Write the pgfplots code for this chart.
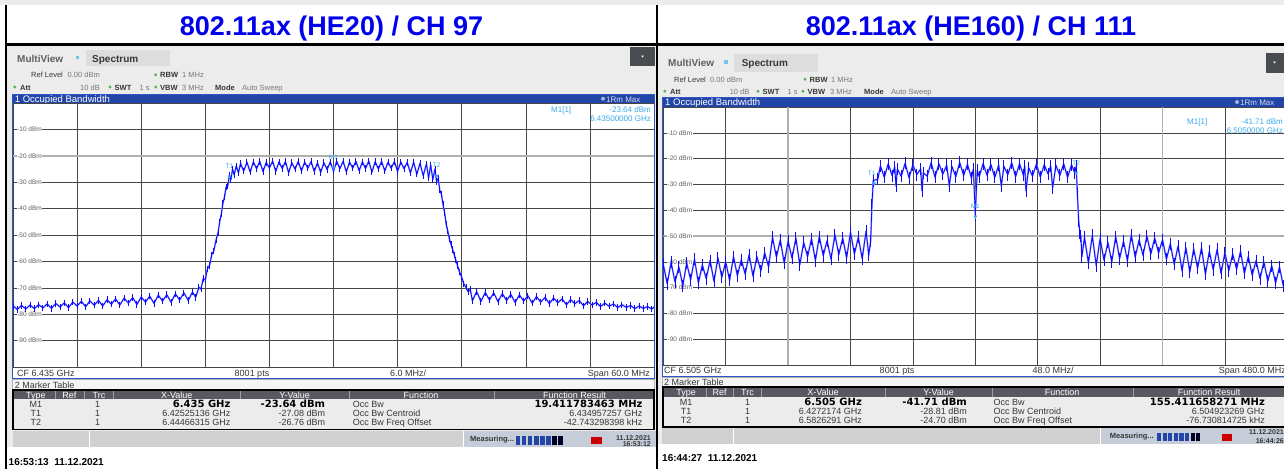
\documentclass[border=0pt]{standalone}
\usepackage{pgfplots}
\pgfplotsset{compat=1.18}
\usepackage{fontspec}
\setmainfont{Liberation Sans}
\newfontfamily\dejavu{DejaVu Sans}

\definecolor{ttl}{RGB}{0,0,235}
\definecolor{uibg}{RGB}{236,236,236}
\definecolor{tabbg}{RGB}{221,221,221}
\definecolor{btn}{RGB}{72,76,80}
\definecolor{bar}{RGB}{34,70,168}
\definecolor{frm}{RGB}{45,85,200}
\definecolor{trc}{RGB}{10,10,255}
\definecolor{mk}{RGB}{60,170,230}
\definecolor{grd}{RGB}{70,70,70}
\definecolor{lbl}{RGB}{95,95,95}
\definecolor{hdr}{RGB}{88,88,96}
\definecolor{stat}{RGB}{208,208,208}
\definecolor{statb}{RGB}{198,205,216}
\definecolor{dot}{RGB}{90,175,90}
\definecolor{txt}{RGB}{55,55,55}
\definecolor{lt}{RGB}{120,120,120}
\definecolor{dline}{RGB}{175,175,175}

\tikzset{
  t/.style={inner sep=0pt, anchor=base west, font=\fontsize{7.5}{9}\selectfont, text=txt},
  ylab/.style={anchor=west, xshift=3.5pt, fill=white, inner sep=0.6pt,
    font=\fontsize{6.5}{7}\selectfont, text=lbl},
  mkl/.style={anchor=south, inner sep=0.5pt, yshift=5pt,
    font=\fontsize{6.5}{7}\selectfont, text=mk},
}
\pgfplotsset{
  mkp/.style={only marks, mark=triangle*, mark size=1.8pt,
    mark options={rotate=180, mk, yshift=2.2pt}},
  halo/.style={trc!40, line width=1.6pt, line join=round},
  core/.style={trc, line width=0.8pt, line join=round},
  % short vertical strokes at every sample thicken the noise band
  grain/.style={only marks, mark=|, mark size=#1, forget plot,
    mark options={draw=trc, line width=0.95pt}},
}
\newcommand{\T}[4][]{\node[t,#1] at (#2,#3) {#4};}

\pgfplotstableread{
x y
-30.0 -76.8
-29.6 -78.2
-29.2 -76.7
-28.8 -78.0
-28.4 -76.5
-28.0 -77.9
-27.6 -76.4
-27.2 -77.6
-26.8 -76.1
-26.4 -77.8
-26.0 -75.9
-25.6 -77.3
-25.2 -75.7
-24.8 -77.5
-24.4 -75.4
-24.0 -76.9
-23.6 -75.1
-23.2 -77.2
-22.8 -74.9
-22.4 -76.6
-22.0 -74.8
-21.6 -76.9
-21.2 -74.5
-20.8 -76.2
-20.4 -74.2
-20.0 -76.5
-19.6 -73.9
-19.2 -75.8
-18.8 -73.7
-18.4 -76.3
-18.0 -73.5
-17.6 -75.4
-17.2 -73.2
-16.8 -75.9
-16.4 -72.8
-16.0 -75.0
-15.6 -72.6
-15.2 -75.5
-14.8 -72.3
-14.4 -74.6
-14.0 -71.9
-13.6 -74.8
-13.2 -71.6
-12.9 -73.6
-12.6 -69.8
-12.4 -70.5
-12.2 -66.5
-12.0 -67.0
-11.8 -62.8
-11.6 -61.5
-11.4 -57.5
-11.2 -56.0
-11.0 -52.0
-10.8 -49.0
-10.65 -45.0
-10.5 -42.0
-10.35 -38.0
-10.2 -35.5
-10.05 -31.8
-9.9 -31.5
-9.75 -27.5
-9.6 -29.0
-9.45 -25.0
-9.3 -27.2
-9.1 -23.8
-8.9 -26.5
-8.7 -22.9
-8.4 -25.8
-8.1 -22.4
-7.8 -26.2
-7.5 -22.3
-7.2 -24.9
-6.9 -22.1
-6.6 -26.0
-6.3 -22.5
-6.0 -24.6
-5.7 -22.0
-5.4 -25.9
-5.1 -22.3
-4.8 -24.8
-4.5 -22.2
-4.2 -26.4
-3.9 -22.6
-3.6 -25.1
-3.3 -22.1
-3.0 -25.7
-2.7 -22.4
-2.4 -24.7
-2.1 -22.2
-1.8 -25.9
-1.5 -22.7
-1.2 -26.3
-0.9 -22.6
-0.6 -25.2
-0.3 -22.3
0.0 -25.8
0.3 -22.1
0.6 -24.9
0.9 -22.0
1.2 -26.1
1.5 -22.4
1.8 -24.6
2.1 -22.1
2.4 -25.7
2.7 -22.3
3.0 -24.8
3.3 -22.0
3.6 -26.2
3.9 -22.2
4.2 -25.0
4.5 -22.1
4.8 -25.8
5.1 -22.4
5.4 -24.7
5.7 -22.2
6.0 -25.9
6.3 -22.3
6.6 -24.9
6.9 -22.5
7.2 -26.5
7.5 -22.4
7.8 -27.0
8.1 -22.8
8.4 -27.6
8.7 -23.0
8.9 -28.4
9.1 -23.5
9.3 -29.0
9.5 -25.0
9.65 -29.8
9.8 -28.5
9.95 -33.0
10.1 -34.5
10.25 -38.5
10.4 -41.5
10.55 -46.0
10.7 -48.5
10.85 -51.5
11.0 -53.5
11.15 -55.5
11.3 -57.5
11.45 -59.5
11.6 -61.5
11.8 -64.0
12.0 -66.0
12.2 -68.5
12.4 -69.8
12.6 -71.5
12.8 -70.6
13.0 -74.9
13.4 -71.4
13.8 -75.2
14.2 -71.8
14.6 -74.6
15.0 -71.9
15.4 -75.3
15.8 -72.2
16.2 -74.8
16.6 -72.5
17.0 -75.6
17.4 -72.7
17.8 -75.0
18.2 -73.0
18.6 -75.8
19.0 -73.3
19.4 -75.4
19.8 -73.6
20.2 -76.0
20.6 -73.9
21.0 -75.6
21.4 -74.2
21.8 -76.4
22.2 -74.5
22.6 -76.0
23.0 -74.8
23.4 -76.8
23.8 -75.2
24.2 -76.5
24.6 -75.5
25.0 -77.1
25.4 -75.8
25.8 -77.0
26.2 -76.1
26.6 -77.5
27.0 -76.4
27.4 -77.4
27.8 -76.7
28.2 -77.9
28.6 -76.9
29.0 -77.8
29.4 -77.1
29.8 -78.0
30.0 -77.3
}\heTwenty

\pgfplotstableread{
x y
-240 -61.0
-237 -68.5
-234 -60.2
-231 -67.8
-228 -62.0
-225 -69.2
-222 -60.5
-219 -67.0
-216 -59.0
-213 -68.2
-210 -61.2
-207 -66.5
-204 -59.5
-201 -67.6
-198 -58.4
-195 -66.0
-192 -60.0
-189 -67.2
-186 -58.0
-183 -65.4
-180 -59.2
-177 -64.8
-174 -57.2
-171 -65.6
-168 -58.0
-165 -63.5
-162 -56.5
-159 -62.0
-156 -50.5
-153 -58.2
-150 -51.5
-147 -60.5
-144 -52.0
-141 -58.6
-138 -50.8
-135 -61.2
-132 -52.5
-129 -58.0
-126 -51.0
-123 -59.5
-120 -50.2
-117 -57.6
-114 -51.8
-111 -59.0
-108 -49.5
-105 -57.2
-102 -50.8
-99 -58.5
-96 -48.6
-93 -57.0
-90 -50.5
-87 -58.8
-84 -48.0
-82 -57.5
-80.5 -52.0
-79.5 -38.0
-78.5 -28.5
-75 -28.0
-73 -22.8
-70 -27.2
-67 -22.0
-64 -26.6
-62 -23.2
-61 -30.6
-60 -24.0
-57 -26.9
-54 -21.8
-51 -27.4
-48 -22.4
-45 -26.2
-42 -24.0
-41 -32.5
-40 -25.5
-37 -26.8
-34 -21.6
-31 -27.2
-28 -22.0
-25 -26.0
-22 -22.6
-20 -30.6
-18 -23.0
-15 -27.0
-12 -21.5
-9 -26.5
-6 -22.2
-3 -27.5
-1.5 -24.0
0 -41.7
1.5 -24.5
3 -27.0
6 -21.9
9 -26.4
12 -22.3
15 -27.3
18 -22.5
20 -30.6
22 -23.0
25 -26.2
28 -21.6
31 -27.0
34 -22.0
37 -26.5
38 -22.8
39 -32.5
41 -23.5
44 -26.8
47 -22.1
50 -27.1
53 -22.4
56 -26.0
58 -22.9
59.5 -31.3
62 -22.6
65 -26.5
68 -22.0
71 -27.3
74 -22.4
76.5 -25.5
77.6 -23.0
78.5 -33.5
79.5 -44.0
80.5 -49.0
81.2 -50.0
82 -58.0
84 -50.5
87 -60.5
90 -49.8
93 -61.5
96 -51.0
99 -59.4
102 -52.5
105 -60.0
108 -50.2
111 -58.8
114 -52.0
117 -59.6
120 -49.5
123 -58.2
126 -51.5
129 -57.5
132 -50.0
135 -57.0
138 -50.8
141 -56.5
144 -51.5
147 -59.0
150 -53.0
153 -61.0
156 -53.8
159 -63.5
162 -54.5
165 -64.0
168 -55.0
171 -62.5
174 -54.6
177 -64.8
180 -56.0
183 -63.0
186 -55.2
189 -64.5
192 -56.5
195 -63.5
198 -57.0
201 -62.8
204 -56.0
207 -64.5
210 -58.0
213 -65.2
216 -59.5
219 -66.5
222 -60.0
225 -67.5
228 -61.5
231 -68.2
234 -62.0
237 -69.5
240 -63.5
}\heOneSixty

\begin{document}
\begin{tikzpicture}
\path[use as bounding box] (0pt,0pt) rectangle (1284pt,-469pt);

\begin{scope}[x=1pt,y=-1pt]
  % frame of the screenshot
  \fill[gray!15] (0,0) rectangle (1284,5);
  \fill[uibg] (7.3,45.7) rectangle (656,447);
  \fill[uibg] (658.3,45.7) rectangle (1284,444);
  \fill[black] (5,5) rectangle (7.3,469);
  \fill[black] (656,5) rectangle (658.3,469);
  \fill[black] (5,43.3) rectangle (1284,45.7);
  \node[anchor=base, font=\fontsize{27}{30}\selectfont\bfseries, text=ttl, inner sep=0pt]
    at (331.5,35) {802.11ax (HE20) / CH 97};
  \node[anchor=base, font=\fontsize{27}{30}\selectfont\bfseries, text=ttl, inner sep=0pt]
    at (971,35) {802.11ax (HE160) / CH 111};

  % ---------- left instrument header
  \T[font=\fontsize{10}{11}\selectfont\bfseries, text=lbl]{17}{62}{MultiView}
  \fill[mk!70] (75.5,55.5) rectangle (79,59);
  \fill[tabbg] (86,50) rectangle (170,66);
  \T[font=\fontsize{10}{11}\selectfont\bfseries]{92}{62}{Spectrum}
  \fill[btn] (630,47) rectangle (655,66);
  \fill[white] (641,55.5) -- (644,55.5) -- (642.5,57.5) -- cycle;
  \T{31}{77.5}{Ref Level}
  \T[text=lt]{67.5}{77.5}{0.00 dBm}
  \fill[dot] (155.7,74.8) circle (1.6);
  \T[font=\fontsize{7.5}{9}\selectfont\bfseries]{160}{77.5}{RBW}
  \T[text=lt]{182}{77.5}{1 MHz}
  \fill[dot] (14.7,87) circle (1.6);
  \T[font=\fontsize{7.5}{9}\selectfont\bfseries]{20}{90}{Att}
  \T[text=lt]{80}{90}{10 dB}
  \fill[dot] (110,87) circle (1.6);
  \T[font=\fontsize{7.5}{9}\selectfont\bfseries]{114.5}{90}{SWT}
  \T[text=lt]{139.5}{90}{1 s}
  \fill[dot] (155.7,87) circle (1.6);
  \T[font=\fontsize{7.5}{9}\selectfont\bfseries]{160}{90}{VBW}
  \T[text=lt]{182}{90}{3 MHz}
  \T[font=\fontsize{7.5}{9}\selectfont\bfseries]{215}{90}{Mode}
  \T[text=lt]{242}{90}{Auto Sweep}
  \fill[bar] (12.6,94) rectangle (654.5,103.3);
  \T[font=\fontsize{9.5}{10}\selectfont, text=white]{14.7}{102}{1 Occupied Bandwidth}
  \fill[white!60!bar] (603,98.7) circle (2);
  \T[font=\fontsize{8}{9}\selectfont, text=white!80!bar]{606}{102}{1Rm Max}
  \fill[white] (12.6,367) rectangle (654.5,378.5);

  % ---------- right instrument header
  \T[font=\fontsize{10}{11}\selectfont\bfseries, text=lbl]{668}{66.5}{MultiView}
  \fill[mk!70] (724,60) rectangle (727.5,63.5);
  \fill[tabbg] (733.6,54) rectangle (818,72.3);
  \T[font=\fontsize{10}{11}\selectfont\bfseries]{741.6}{66.5}{Spectrum}
  \fill[btn] (1265.6,53) rectangle (1284,73.3);
  \fill[white] (1273,61.5) -- (1276,61.5) -- (1274.5,63.5) -- cycle;
  \T{674}{82}{Ref Level}
  \T[text=lt]{710}{82}{0.00 dBm}
  \fill[dot] (805,79.3) circle (1.6);
  \T[font=\fontsize{7.5}{9}\selectfont\bfseries]{809.5}{82}{RBW}
  \T[text=lt]{831}{82}{1 MHz}
  \fill[dot] (664.8,91.2) circle (1.6);
  \T[font=\fontsize{7.5}{9}\selectfont\bfseries]{670}{94}{Att}
  \T[text=lt]{729.6}{94}{10 dB}
  \fill[dot] (758,91.2) circle (1.6);
  \T[font=\fontsize{7.5}{9}\selectfont\bfseries]{762.5}{94}{SWT}
  \T[text=lt]{787.5}{94}{1 s}
  \fill[dot] (803,91.2) circle (1.6);
  \T[font=\fontsize{7.5}{9}\selectfont\bfseries]{807.5}{94}{VBW}
  \T[text=lt]{830}{94}{3 MHz}
  \T[font=\fontsize{7.5}{9}\selectfont\bfseries]{864}{94}{Mode}
  \T[text=lt]{891}{94}{Auto Sweep}
  \fill[bar] (662,97.3) rectangle (1290,107);
  \T[font=\fontsize{9.5}{10}\selectfont, text=white]{665}{105.5}{1 Occupied Bandwidth}
  \fill[white!60!bar] (1237,102) circle (2);
  \T[font=\fontsize{8}{9}\selectfont, text=white!80!bar]{1240}{105.5}{1Rm Max}
  \fill[white] (662,365) rectangle (1290,376);
\end{scope}

% ================= left spectrum (offset from 6.435 GHz, MHz)
\begin{axis}[
  at={(13pt,-103pt)}, anchor=north west, scale only axis,
  width=641pt, height=264pt,
  xmin=-30, xmax=30, ymin=-100, ymax=0,
  xtick={-24,-18,...,24}, ytick={-90,-80,...,-10},
  xticklabels={}, yticklabels={}, major tick length=0pt,
  grid=major, major grid style={grd, line width=0.6pt},
  axis line style={grd, line width=0.6pt},
  axis background/.style={fill=white},
]
\addplot[dline, line width=1.6pt] coordinates {(-30,-20) (30,-20)};
\node[ylab] at (axis cs:-30,-10) {-10 dBm};
\node[ylab] at (axis cs:-30,-20) {-20 dBm};
\node[ylab] at (axis cs:-30,-30) {-30 dBm};
\node[ylab] at (axis cs:-30,-40) {-40 dBm};
\node[ylab] at (axis cs:-30,-50) {-50 dBm};
\node[ylab] at (axis cs:-30,-60) {-60 dBm};
\node[ylab] at (axis cs:-30,-70) {-70 dBm};
\node[ylab] at (axis cs:-30,-80) {-80 dBm};
\node[ylab] at (axis cs:-30,-90) {-90 dBm};
\addplot[halo] table {\heTwenty};
\addplot[grain=3.2pt] table {\heTwenty};
\addplot[core] table {\heTwenty};
\addplot[mkp] coordinates {(-9.749,-27.08) (0,-23.64) (9.663,-26.76)};
\node[mkl] at (axis cs:-9.749,-27.08) {T1};
\node[mkl] at (axis cs:0,-23.64) {M1};
\node[mkl] at (axis cs:9.663,-26.76) {T2};
\end{axis}

% ================= right spectrum (offset from 6.505 GHz, MHz)
\begin{axis}[
  at={(663.3pt,-107pt)}, anchor=north west, scale only axis,
  width=624pt, height=258pt,
  xmin=-240, xmax=240, ymin=-100, ymax=0,
  xtick={-192,-144,...,192}, ytick={-90,-80,...,-10},
  xticklabels={}, yticklabels={}, major tick length=0pt,
  grid=major, major grid style={grd, line width=0.6pt},
  axis line style={grd, line width=0.6pt},
  axis background/.style={fill=white},
]
\addplot[dline, line width=1.6pt] coordinates {(-240,-50) (240,-50)};
\addplot[dline, line width=1.6pt] coordinates {(-144,0) (-144,-100)};
\addplot[dline, line width=1.6pt] coordinates {(144,0) (144,-100)};
\node[ylab] at (axis cs:-240,-10) {-10 dBm};
\node[ylab] at (axis cs:-240,-20) {-20 dBm};
\node[ylab] at (axis cs:-240,-30) {-30 dBm};
\node[ylab] at (axis cs:-240,-40) {-40 dBm};
\node[ylab] at (axis cs:-240,-50) {-50 dBm};
\node[ylab] at (axis cs:-240,-60) {-60 dBm};
\node[ylab] at (axis cs:-240,-70) {-70 dBm};
\node[ylab] at (axis cs:-240,-80) {-80 dBm};
\node[ylab] at (axis cs:-240,-90) {-90 dBm};
\addplot[halo] table {\heOneSixty};
\addplot[grain=6pt] table {\heOneSixty};
\addplot[core] table {\heOneSixty};
\addplot[mkp] coordinates {(-77.78,-28.81) (0,-41.71) (77.63,-24.70)};
\node[mkl, anchor=south east, xshift=2pt] at (axis cs:-77.78,-28.81) {T1};
\node[mkl] at (axis cs:0,-41.71) {M1};
\node[mkl] at (axis cs:77.63,-24.70) {T2};
\end{axis}

\begin{scope}[x=1pt,y=-1pt]
  % ---------- left: window frame, readout, bottom row
  \draw[frm, line width=0.8pt] (12.6,94) rectangle (654.5,378.5);
  \T[text=mk, font=\fontsize{8}{9}\selectfont]{551}{112.5}{M1[1]}
  \T[text=mk, font=\fontsize{8}{9}\selectfont, anchor=base east]{651}{112.5}{-23.64 dBm}
  \T[text=mk, font=\fontsize{8}{9}\selectfont, anchor=base east]{651}{121.5}{6.43500000 GHz}
  \T[font=\fontsize{9}{10}\selectfont]{17}{376}{CF 6.435 GHz}
  \T[font=\fontsize{9}{10}\selectfont, anchor=base]{252}{376}{8001 pts}
  \T[font=\fontsize{9}{10}\selectfont, anchor=base]{408}{376}{6.0 MHz/}
  \T[font=\fontsize{9}{10}\selectfont, anchor=base east]{650}{376}{Span 60.0 MHz}

  % ---------- left marker table
  \filldraw[fill=gray!8, draw=gray!60] (12.6,379.5) rectangle (654.5,389);
  \T[font=\fontsize{9}{10}\selectfont]{14.7}{388}{2 Marker Table}
  \fill[hdr] (13.5,390.5) rectangle (653.5,399.3);
  \foreach \xx in {54.7,84.2,113.6,240,349,494.5}
    \draw[gray!75] (\xx,390.5) -- (\xx,399.3);
  \begin{scope}[every node/.style={t, anchor=base, font=\fontsize{9}{10}\selectfont, text=white}]
    \node at (35.8,398) {Type}; \node at (69.4,398) {Ref}; \node at (99,398) {Trc};
    \node at (176.8,398) {X-Value}; \node at (294.6,398) {Y-Value};
    \node at (421,398) {Function}; \node at (574.5,398) {Function Result};
  \end{scope}
  \begin{scope}[every node/.style={t, font=\fontsize{9}{10}\selectfont}]
    \node[anchor=base] at (35.8,407.5) {M1};
    \node[anchor=base] at (97.6,407.5) {1};
    \node[anchor=base east, font=\dejavu\fontsize{10}{11}\selectfont\bfseries, text=black] at (230.6,407.8) {6.435 GHz};
    \node[anchor=base east, font=\dejavu\fontsize{10}{11}\selectfont\bfseries, text=black] at (325.3,407.8) {-23.64 dBm};
    \node at (352.7,407.5) {Occ Bw};
    \node[anchor=base east, font=\dejavu\fontsize{10}{11}\selectfont\bfseries, text=black] at (642.7,407.8) {19.411783463 MHz};
    \node[anchor=base] at (35.8,416.5) {T1};
    \node[anchor=base] at (97.6,416.5) {1};
    \node[anchor=base east] at (230.6,416.5) {6.42525136 GHz};
    \node[anchor=base east] at (325.3,416.5) {-27.08 dBm};
    \node at (352.7,416.5) {Occ Bw Centroid};
    \node[anchor=base east] at (642.7,416.5) {6.434957257 GHz};
    \node[anchor=base] at (35.8,425.5) {T2};
    \node[anchor=base] at (97.6,425.5) {1};
    \node[anchor=base east] at (230.6,425.5) {6.44466315 GHz};
    \node[anchor=base east] at (325.3,425.5) {-26.76 dBm};
    \node at (352.7,425.5) {Occ Bw Freq Offset};
    \node[anchor=base east] at (642.7,425.5) {-42.743298398 kHz};
  \end{scope}
  \draw[black, line width=1.8pt] (12.6,389.6) rectangle (654.2,429.5);

  % ---------- left status bar
  \fill[stat] (12.6,431) rectangle (463,447);
  \fill[statb] (463,431) rectangle (656,447);
  \draw[white, line width=1pt] (89,431) -- (89,447);
  \draw[white, line width=1pt] (463,431) -- (463,447);
  \T[font=\fontsize{7.5}{8}\selectfont\bfseries, text=txt]{470}{441.5}{Measuring...}
  \foreach \i in {0,...,5} \fill[bar] (515.6+\i*6.1,436) rectangle ++(4.6,8.5);
  \foreach \i in {6,7} \fill[black!85!blue] (515.6+\i*6.1,436) rectangle ++(4.6,8.5);
  \fill[red!80!black] (591,437) rectangle (602,443.5);
  \T[font=\fontsize{7}{8}\selectfont\bfseries, anchor=base east]{651}{440.3}{11.12.2021}
  \T[font=\fontsize{7}{8}\selectfont\bfseries, anchor=base east]{651}{446.8}{16:53:12}
  \T[font=\fontsize{10}{11}\selectfont\bfseries, text=black]{8.5}{465}{16:53:13\ \ 11.12.2021}

  % ---------- right: window frame, readout, bottom row
  \draw[frm, line width=0.8pt] (662,97.3) rectangle (1290,376);
  \T[text=mk, font=\fontsize{8}{9}\selectfont]{1187}{124}{M1[1]}
  \T[text=mk, font=\fontsize{8}{9}\selectfont, anchor=base east]{1283}{124}{-41.71 dBm}
  \T[text=mk, font=\fontsize{8}{9}\selectfont, anchor=base east]{1283}{133}{6.5050000 GHz}
  \T[font=\fontsize{9}{10}\selectfont]{664}{373.5}{CF 6.505 GHz}
  \T[font=\fontsize{9}{10}\selectfont, anchor=base]{897}{373.5}{8001 pts}
  \T[font=\fontsize{9}{10}\selectfont, anchor=base]{1053}{373.5}{48.0 MHz/}
  \T[font=\fontsize{9}{10}\selectfont, anchor=base east]{1286}{373.5}{Span 480.0 MHz}

  % ---------- right marker table
  \filldraw[fill=gray!8, draw=gray!60] (662,377) rectangle (1290,386.5);
  \T[font=\fontsize{9}{10}\selectfont]{664}{385.5}{2 Marker Table}
  \fill[hdr] (664,388.3) rectangle (1290,396.7);
  \foreach \xx in {705.8,733.6,761.5,884.8,992.3,1133.5}
    \draw[gray!75] (\xx,388.3) -- (\xx,396.7);
  \begin{scope}[every node/.style={t, anchor=base, font=\fontsize{9}{10}\selectfont, text=white}]
    \node at (686,395.5) {Type}; \node at (719.7,395.5) {Ref}; \node at (747.5,395.5) {Trc};
    \node at (823,395.5) {X-Value}; \node at (938.6,395.5) {Y-Value};
    \node at (1062,395.5) {Function}; \node at (1209,395.5) {Function Result};
  \end{scope}
  \begin{scope}[every node/.style={t, font=\fontsize{9}{10}\selectfont}]
    \node[anchor=base] at (686,405.5) {M1};
    \node[anchor=base] at (747.5,405.5) {1};
    \node[anchor=base east, font=\dejavu\fontsize{10}{11}\selectfont\bfseries, text=black] at (862,405.8) {6.505 GHz};
    \node[anchor=base east, font=\dejavu\fontsize{10}{11}\selectfont\bfseries, text=black] at (967,405.8) {-41.71 dBm};
    \node at (993.5,405.5) {Occ Bw};
    \node[anchor=base east, font=\dejavu\fontsize{10}{11}\selectfont\bfseries, text=black] at (1265,405.8) {155.411658271 MHz};
    \node[anchor=base] at (686,414.5) {T1};
    \node[anchor=base] at (747.5,414.5) {1};
    \node[anchor=base east] at (862,414.5) {6.4272174 GHz};
    \node[anchor=base east] at (967,414.5) {-28.81 dBm};
    \node at (993.5,414.5) {Occ Bw Centroid};
    \node[anchor=base east] at (1265,414.5) {6.504923269 GHz};
    \node[anchor=base] at (686,423.5) {T2};
    \node[anchor=base] at (747.5,423.5) {1};
    \node[anchor=base east] at (862,423.5) {6.5826291 GHz};
    \node[anchor=base east] at (967,423.5) {-24.70 dBm};
    \node at (993.5,423.5) {Occ Bw Freq Offset};
    \node[anchor=base east] at (1265,423.5) {-76.730814725 kHz};
  \end{scope}
  \draw[black, line width=1.8pt] (663,387.3) rectangle (1292,426.7);

  % ---------- right status bar
  \fill[stat] (662,428.3) rectangle (1100,443.5);
  \fill[statb] (1100,428.3) rectangle (1290,443.5);
  \draw[white, line width=1pt] (733,428.3) -- (733,443.5);
  \draw[white, line width=1pt] (1100,428.3) -- (1100,443.5);
  \T[font=\fontsize{7.5}{8}\selectfont\bfseries, text=txt]{1109.7}{438.8}{Measuring...}
  \foreach \i in {0,...,5} \fill[bar] (1157+\i*5.6,432.5) rectangle ++(4.2,8.5);
  \foreach \i in {6,7} \fill[black!85!blue] (1157+\i*5.6,432.5) rectangle ++(4.2,8.5);
  \fill[red!80!black] (1222,434) rectangle (1232,440.5);
  \T[font=\fontsize{7}{8}\selectfont\bfseries, anchor=base east]{1284}{434.5}{11.12.2021}
  \T[font=\fontsize{7}{8}\selectfont\bfseries, anchor=base east]{1284}{443}{16:44:26}
  \T[font=\fontsize{10}{11}\selectfont\bfseries, text=black]{662}{461}{16:44:27\ \ 11.12.2021}
\end{scope}
\end{tikzpicture}
\end{document}
